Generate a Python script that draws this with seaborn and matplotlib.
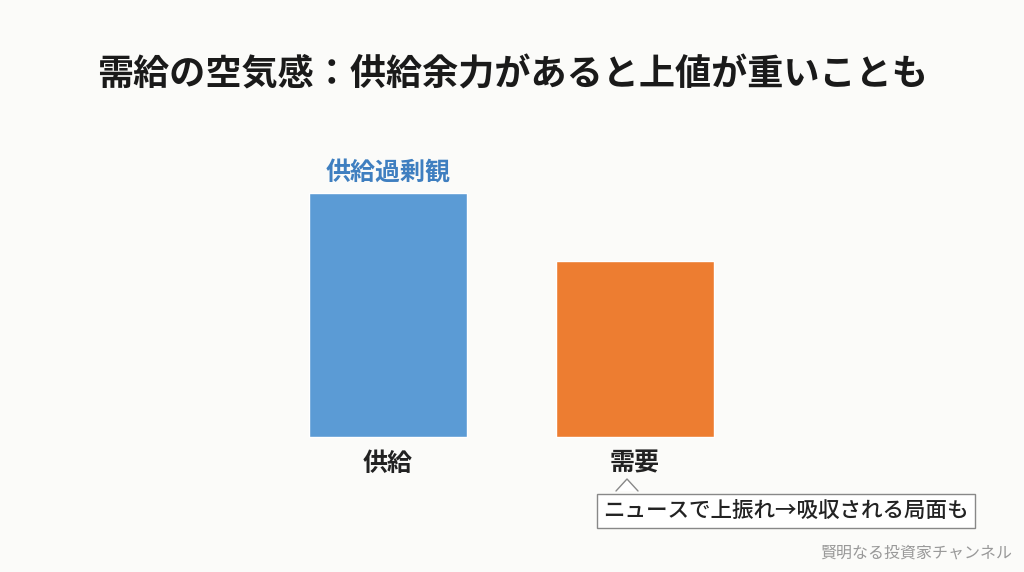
import pandas as pd
import numpy as np
import seaborn as sns
import matplotlib.pyplot as plt
from matplotlib.patches import Polygon
from matplotlib.lines import Line2D

categories = ['供給', '需要']
values = [100, 72]
bar_colors = ['#5B9BD5', '#ED7D31']
title = '需給の空気感：供給余力があると上値が重いことも'
top_label = '供給過剰観'
note = 'ニュースで上振れ→吸収される局面も'
watermark = '賢明なる投資家チャンネル'

bg = '#FBFBF9'
sns.set_theme(style='white')
plt.rcParams['font.family'] = ['Noto Sans CJK JP', 'DejaVu Sans']

W, H = 1024, 572
fig = plt.figure(figsize=(W / 100, H / 100), dpi=100, facecolor=bg)
ax = fig.add_axes([0, 0, 1, 1])
ax.set_facecolor(bg)

df = pd.DataFrame({'cat': categories, 'val': values})
sns.barplot(data=df, x='cat', y='val', hue='cat', palette=bar_colors,
            width=0.64, legend=False, ax=ax, saturation=1)

# map pixel layout: bar centers at 388 / 635 px, baseline at y=437 px, 100 -> 244 px
px_per_unit = 247
x0 = 388
ax.set_xlim(-x0 / px_per_unit, (W - x0) / px_per_unit)
py = 2.44
ax.set_ylim(-(H - 437) / py, 437 / py)
ax.axis('off')

# label over first bar
ax.text(0, values[0] + 8, top_label, ha='center', va='center', fontsize=18,
        fontweight='bold', color='#3F7FC0')

# category labels
for i, c in enumerate(categories):
    ax.text(i, -11, c, ha='center', va='center', fontsize=18,
            fontweight='bold', color='#222222')

# title
fig.text(0.5, 1 - 75 / H, title, ha='center', va='center', fontsize=26,
         fontweight='bold', color='#1a1a1a')

# callout box under 需要
fig.text(786 / W, 1 - 511 / H, note, ha='center', va='center', fontsize=15.5,
         fontweight='medium', color='#222222',
         bbox=dict(boxstyle='square,pad=0.3', fc='white', ec='#888888', lw=1.0))

def fp(x, y):
    return (x / W, 1 - y / H)

notch = [fp(616, 491), fp(627, 479), fp(638, 491)]
fig.patches.append(Polygon(notch, closed=True, transform=fig.transFigure,
                           fc='white', ec='none', zorder=5))
xs, ys = zip(*notch)
fig.lines.append(Line2D(xs, ys, transform=fig.transFigure, color='#888888',
                        lw=1.0, zorder=6))

# watermark
fig.text(1012 / W, 1 - 553 / H, watermark, ha='right', va='center',
         fontsize=11.5, color='#999999')

fig.savefig('out.png', dpi=100, facecolor=bg)
